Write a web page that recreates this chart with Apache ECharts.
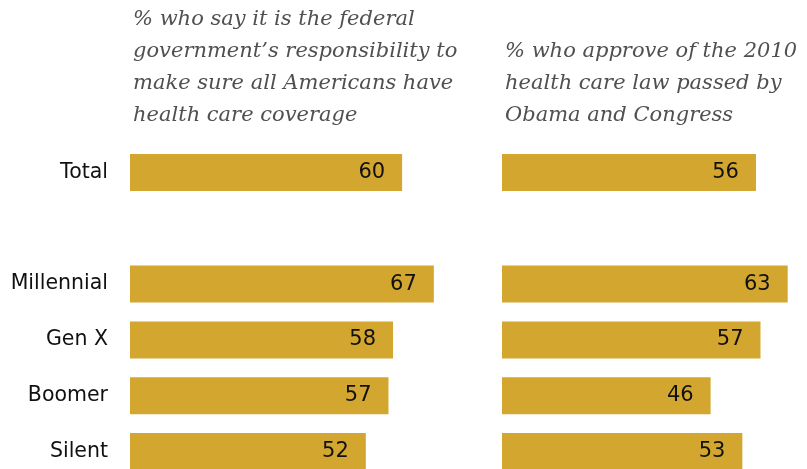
<!DOCTYPE html>
<html><head><meta charset="utf-8">
<script src="https://cdn.jsdelivr.net/npm/echarts@6/dist/echarts.min.js"></script>
<style>html,body{margin:0;padding:0;background:#fff}#c{width:807px;height:469px}</style>
</head><body><div id="c"></div>
<script>
const categories = ['Total', '', 'Millennial', 'Gen X', 'Boomer', 'Silent'];
const federalResponsibility = [60, null, 67, 58, 57, 52];
const approveLaw = [56, null, 63, 57, 46, 53];
const leftTitle = '% who say it is the federal\ngovernment\u2019s responsibility to\nmake sure all Americans have\nhealth care coverage';
const rightTitle = '% who approve of the 2010\nhealth care law passed by\nObama and Congress';

const BAR = '#D3A62F';
const SANS = 'DejaVu Sans, sans-serif';
const labelStyle = {show: true, position: 'insideRight', distance: 17, color: '#111', fontSize: 21, fontFamily: SANS,
  formatter: p => p.value == null ? '' : p.value};
const titleStyle = {fontFamily: 'DejaVu Serif', fontStyle: 'italic', fontWeight: 'normal', fontSize: 21, lineHeight: 32, color: '#505050'};

const chart = echarts.init(document.getElementById('c'));
chart.setOption({
  animation: false,
  title: [
    {text: leftTitle, left: 128, top: -1, textStyle: titleStyle},
    {text: rightTitle, left: 500, top: 31, textStyle: titleStyle}
  ],
  grid: [
    {left: 130, top: 144.6, width: 453.5, height: 334.8, outerBoundsMode: 'none', containLabel: false},
    {left: 502, top: 144.6, width: 453.5, height: 334.8, outerBoundsMode: 'none', containLabel: false}
  ],
  xAxis: [
    {gridIndex: 0, type: 'value', min: 0, max: 100, show: false},
    {gridIndex: 1, type: 'value', min: 0, max: 100, show: false}
  ],
  yAxis: [
    {gridIndex: 0, type: 'category', data: categories, inverse: true,
     axisLine: {show: false}, axisTick: {show: false},
     axisLabel: {margin: 22, color: '#111', fontSize: 20.5, fontFamily: SANS}},
    {gridIndex: 1, type: 'category', data: categories, inverse: true,
     axisLine: {show: false}, axisTick: {show: false}, axisLabel: {show: false}}
  ],
  series: [
    {type: 'bar', xAxisIndex: 0, yAxisIndex: 0, data: federalResponsibility, barWidth: 37,
     itemStyle: {color: BAR}, label: labelStyle},
    {type: 'bar', xAxisIndex: 1, yAxisIndex: 1, data: approveLaw, barWidth: 37,
     itemStyle: {color: BAR}, label: labelStyle}
  ]
});
</script></body></html>
